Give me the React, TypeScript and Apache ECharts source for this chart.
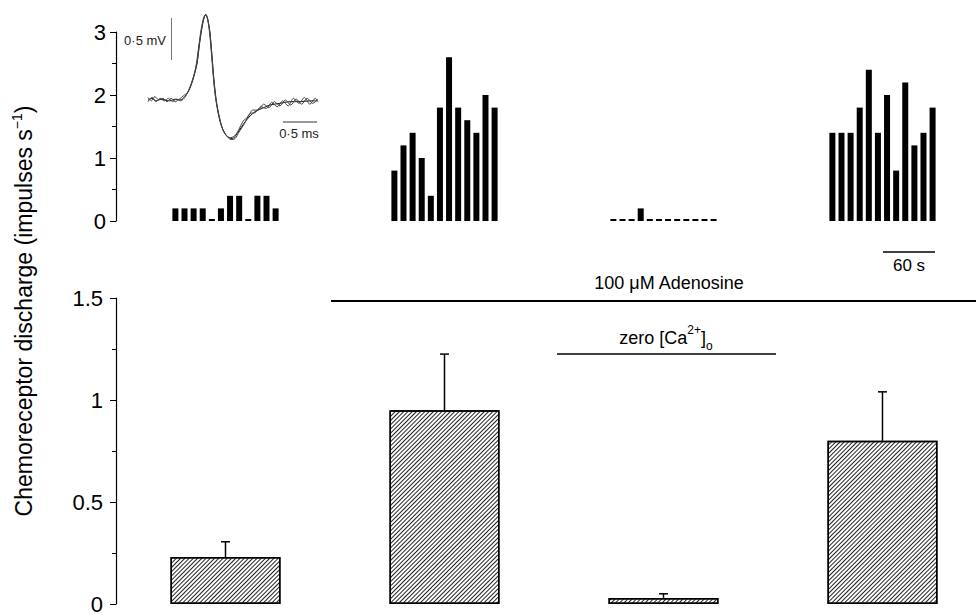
import React, { useEffect, useRef } from 'react';
import * as echarts from 'echarts';

// ---- data ----
const conditionPositions = [1, 2, 3, 4];
const meanDischarge = [0.23, 0.95, 0.03, 0.8];
const semDischarge = [0.075, 0.275, 0.02, 0.24];

// rate histograms (impulses s-1), 12 bins per record
const histControl = [0.2, 0.2, 0.2, 0.2, 0, 0.2, 0.4, 0.4, 0, 0.4, 0.4, 0.2];
const histAdenosine = [0.8, 1.2, 1.4, 1.0, 0.4, 1.8, 2.6, 1.8, 1.6, 1.4, 2.0, 1.8];
const histZeroCa = [0, 0, 0, 0.2, 0, 0, 0, 0, 0, 0, 0, 0];
const histRecovery = [1.4, 1.4, 1.4, 1.8, 2.4, 1.4, 2.0, 0.8, 2.2, 1.2, 1.4, 1.8];
const histograms = [histControl, histAdenosine, histZeroCa, histRecovery];

// action potential traces: [time (ms), voltage (mV)]
const traceA: number[][] = [
  [0, 0], [0.06, 0.02], [0.12, -0.01], [0.18, 0.01], [0.25, 0], [0.32, -0.01], [0.4, 0.01], [0.47, 0],
  [0.54, 0.04], [0.6, 0.11], [0.66, 0.24], [0.72, 0.43], [0.76, 0.68], [0.81, 0.93], [0.85, 1.02],
  [0.88, 0.96], [0.91, 0.81], [0.94, 0.54], [0.97, 0.24], [1.0, 0.02], [1.04, -0.18], [1.09, -0.33],
  [1.15, -0.42], [1.24, -0.46], [1.31, -0.4], [1.4, -0.29], [1.5, -0.19], [1.59, -0.13], [1.68, -0.1],
  [1.79, -0.06], [1.94, -0.04], [2.09, -0.02], [2.24, -0.02], [2.38, -0.01], [2.49, -0.01],
];
const traceB: number[][] = [
  [0, 0.03], [0.05, -0.01], [0.1, 0.04], [0.16, 0.0], [0.22, 0.02], [0.28, -0.02], [0.34, 0.02], [0.4, -0.02],
  [0.46, 0.01], [0.52, 0.05], [0.58, 0.09], [0.64, 0.2], [0.7, 0.38], [0.74, 0.6], [0.79, 0.88], [0.84, 1.01],
  [0.87, 0.98], [0.9, 0.84], [0.93, 0.58], [0.96, 0.28], [0.99, 0.05], [1.03, -0.15], [1.08, -0.31],
  [1.14, -0.41], [1.2, -0.45], [1.27, -0.43], [1.33, -0.36], [1.4, -0.25], [1.47, -0.2], [1.54, -0.12],
  [1.62, -0.12], [1.7, -0.05], [1.78, -0.09], [1.86, -0.02], [1.94, -0.07], [2.02, 0.0], [2.1, -0.06],
  [2.18, 0.01], [2.26, -0.05], [2.34, 0.02], [2.42, -0.04], [2.5, 0.01],
];
const traceC: number[][] = [
  [0, -0.02], [0.06, 0.03], [0.12, -0.02], [0.18, 0.02], [0.24, -0.01], [0.3, 0.02], [0.36, -0.02], [0.42, 0.01],
  [0.48, -0.01], [0.54, 0.03], [0.6, 0.12], [0.66, 0.25], [0.72, 0.44], [0.76, 0.7], [0.81, 0.94], [0.85, 1.02],
  [0.88, 0.95], [0.91, 0.8], [0.94, 0.52], [0.97, 0.22], [1.0, 0.0], [1.05, -0.2], [1.1, -0.35], [1.16, -0.43],
  [1.22, -0.47], [1.28, -0.46], [1.34, -0.38], [1.42, -0.28], [1.5, -0.16], [1.58, -0.15], [1.66, -0.08],
  [1.74, -0.1], [1.82, -0.03], [1.9, -0.08], [1.98, -0.01], [2.06, -0.07], [2.14, 0.02], [2.22, -0.04],
  [2.3, 0.03], [2.38, -0.05], [2.46, 0.02], [2.5, -0.02],
];

const FONT = "'Liberation Sans', Arial, Helvetica, sans-serif";
const BIN_STEP = 0.0416; // spacing of histogram bins in condition units

export default function App() {
  const ref = useRef<HTMLDivElement>(null);

  useEffect(() => {
    if (!ref.current) return;
    const chart = echarts.init(ref.current, undefined, { renderer: 'svg' });

    const histData: number[][] = [];
    histograms.forEach((h, g) => {
      h.forEach((v, i) => {
        histData.push([conditionPositions[g] + (i - 5.5) * BIN_STEP, v]);
      });
    });

    const barData = conditionPositions.map((x, i) => [x, meanDischarge[i]]);
    const errData = conditionPositions.map((x, i) => [x, meanDischarge[i], meanDischarge[i] + semDischarge[i]]);

    const yAxisCommon = {
      type: 'value',
      axisLine: { show: true, lineStyle: { color: '#000', width: 1.2 } },
      axisTick: { show: true, length: 6, lineStyle: { color: '#000', width: 1 } },
      minorTick: { show: true, splitNumber: 2, length: 4, lineStyle: { color: '#000', width: 1 } },
      splitLine: { show: false },
      minorSplitLine: { show: false },
    };

    const option: any = {
      animation: false,
      backgroundColor: '#fff',
      grid: [
        { left: 116, right: 0, top: 32, height: 189 },
        { left: 116, right: 0, top: 298, height: 310 },
        { left: 148, width: 170, top: 7.6, height: 134.4 },
      ],
      xAxis: [
        { gridIndex: 0, type: 'value', min: 0.5, max: 4.427, show: false },
        { gridIndex: 1, type: 'value', min: 0.5, max: 4.427, show: false },
        { gridIndex: 2, type: 'value', min: 0, max: 2.5, show: false },
      ],
      yAxis: [
        {
          ...yAxisCommon,
          gridIndex: 0,
          min: 0,
          max: 3,
          interval: 1,
          axisLabel: { fontSize: 22, fontFamily: FONT, color: '#000', margin: 10 },
        },
        {
          ...yAxisCommon,
          gridIndex: 1,
          min: 0,
          max: 1.5,
          interval: 0.5,
          axisLabel: { fontSize: 22, fontFamily: FONT, color: '#000', margin: 13 },
        },
        { gridIndex: 2, type: 'value', min: -0.5, max: 1.1, show: false },
      ],
      series: [
        {
          type: 'bar',
          xAxisIndex: 0,
          yAxisIndex: 0,
          data: histData,
          barWidth: 6,
          barMinHeight: 2,
          itemStyle: { color: '#000' },
          silent: true,
        },
        {
          type: 'bar',
          xAxisIndex: 1,
          yAxisIndex: 1,
          data: barData,
          barWidth: 110,
          itemStyle: {
            color: '#fff',
            borderColor: '#000',
            borderWidth: 1.5,
            decal: {
              symbol: 'rect',
              symbolSize: 1,
              color: '#222',
              dashArrayX: [1, 0],
              dashArrayY: [1, 2],
              rotation: -Math.PI / 4,
            },
          },
          silent: true,
        },
        {
          type: 'custom',
          xAxisIndex: 1,
          yAxisIndex: 1,
          data: errData,
          silent: true,
          z: 5,
          renderItem: (params: any, api: any) => {
            const x = api.value(0);
            const p0 = api.coord([x, api.value(1)]);
            const p1 = api.coord([x, api.value(2)]);
            return {
              type: 'group',
              children: [
                { type: 'line', shape: { x1: p0[0], y1: p0[1], x2: p1[0], y2: p1[1] }, style: { stroke: '#000', lineWidth: 1.5 } },
                { type: 'line', shape: { x1: p1[0] - 4.5, y1: p1[1], x2: p1[0] + 4.5, y2: p1[1] }, style: { stroke: '#000', lineWidth: 1.5 } },
              ],
            };
          },
        },
        ...[traceA, traceB, traceC].map((tr, k) => ({
          type: 'line',
          xAxisIndex: 2,
          yAxisIndex: 2,
          data: tr,
          showSymbol: false,
          symbol: 'none',
          smooth: 0.3,
          silent: true,
          lineStyle: { color: k === 0 ? '#111' : '#444', width: 1 },
        })),
      ],
      graphic: [
        // y-axis title
        {
          type: 'text',
          x: 24,
          y: 311,
          rotation: Math.PI / 2,
          style: {
            text: '{n|Chemoreceptor discharge (impulses s}{s|−1}{n|)}',
            align: 'center',
            verticalAlign: 'middle',
            textAlign: 'center',
            textVerticalAlign: 'middle',
            fill: '#000',
            rich: {
              n: { fontSize: 23, fontFamily: FONT, lineHeight: 28, fill: '#000' },
              s: { fontSize: 14, fontFamily: FONT, lineHeight: 14, verticalAlign: 'top', fill: '#000' },
            },
          },
        },
        // inset scale bars
        { type: 'line', shape: { x1: 171.5, y1: 18, x2: 171.5, y2: 60 }, style: { stroke: '#777', lineWidth: 1 } },
        {
          type: 'text', x: 166, y: 40,
          style: { text: '0·5 mV', font: `13px ${FONT}`, fill: '#222', align: 'right', verticalAlign: 'middle', textAlign: 'right', textVerticalAlign: 'middle' },
        },
        { type: 'line', shape: { x1: 283, y1: 122, x2: 317, y2: 122 }, style: { stroke: '#333', lineWidth: 1 } },
        {
          type: 'text', x: 299, y: 133,
          style: { text: '0·5 ms', font: `13px ${FONT}`, fill: '#222', align: 'center', verticalAlign: 'middle', textAlign: 'center', textVerticalAlign: 'middle' },
        },
        // 60 s bar
        { type: 'line', shape: { x1: 883, y1: 252, x2: 935, y2: 252 }, style: { stroke: '#000', lineWidth: 1.5 } },
        {
          type: 'text', x: 909, y: 265,
          style: { text: '60 s', font: `17px ${FONT}`, fill: '#000', align: 'center', verticalAlign: 'middle', textAlign: 'center', textVerticalAlign: 'middle' },
        },
        // adenosine application
        { type: 'line', shape: { x1: 331, y1: 301, x2: 976, y2: 301 }, style: { stroke: '#000', lineWidth: 1.8 } },
        {
          type: 'text', x: 669, y: 283,
          style: { text: '100 μM Adenosine', font: `18px ${FONT}`, fill: '#000', align: 'center', verticalAlign: 'middle', textAlign: 'center', textVerticalAlign: 'middle' },
        },
        // zero calcium
        { type: 'line', shape: { x1: 557, y1: 354, x2: 776, y2: 354 }, style: { stroke: '#000', lineWidth: 1.5 } },
        {
          type: 'text', x: 666, y: 338,
          style: {
            text: '{n|zero [Ca}{s|2+}{n|]}{b|o}',
            align: 'center',
            verticalAlign: 'middle',
            textAlign: 'center',
            textVerticalAlign: 'middle',
            fill: '#000',
            rich: {
              n: { fontSize: 18, fontFamily: FONT, lineHeight: 28, fill: '#000' },
              s: { fontSize: 12, fontFamily: FONT, lineHeight: 12, verticalAlign: 'top', fill: '#000' },
              b: { fontSize: 12, fontFamily: FONT, lineHeight: 12, verticalAlign: 'bottom', fill: '#000' },
            },
          },
        },
      ],
    };

    chart.setOption(option);
    return () => chart.dispose();
  }, []);

  return (
    <div
      ref={ref}
      style={{ position: 'absolute', left: 0, top: 0, width: 976, height: 615, background: '#fff' }}
    />
  );
}
